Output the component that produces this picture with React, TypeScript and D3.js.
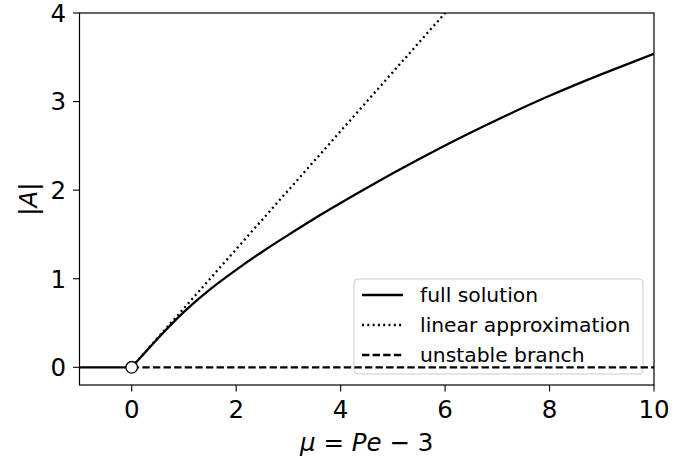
import React from "react";
import * as d3 from "d3";

const xTicks = [0, 2, 4, 6, 8, 10];
const yTicks = [0, 1, 2, 3, 4];

// stable zero branch (mu < 0)
const zeroMu = [-1, 0];
const zeroA = [0, 0];

// full solution (mu >= 0)
const fullMu = [0, 0.5, 1, 1.5, 2, 2.5, 3, 3.5, 4, 5, 6, 7, 8, 9, 10];
const fullA = [0, 0.325, 0.625, 0.88, 1.1, 1.305, 1.495, 1.68, 1.855, 2.19, 2.505, 2.795, 3.065, 3.31, 3.54];

// linear approximation
const linMu = [0, 6.2];
const linA = [0, 4.133];

// unstable branch
const unstMu = [0, 10];
const unstA = [0, 0];

const legendLabels = ["full solution", "linear approximation", "unstable branch"];

const W = 695;
const H = 459;
const L = 79.5;
const R = 654;
const T = 13;
const B = 385;

export default function App() {
  const x = d3.scaleLinear().domain([-1, 10]).range([L, R]);
  const y = d3.scaleLinear().domain([-0.2, 4]).range([B, T]);
  const line = d3
    .line<[number, number]>()
    .x((d) => x(d[0]))
    .y((d) => y(d[1]));
  const smooth = d3
    .line<[number, number]>()
    .x((d) => x(d[0]))
    .y((d) => y(d[1]))
    .curve(d3.curveNatural);

  const zip = (a: number[], b: number[]) => a.map((v, i) => [v, b[i]] as [number, number]);

  const font = "'DejaVu Sans', sans-serif";
  const dashes = ["none", "2,3.3", "7.4,3.2"];
  const legX = 354;
  const legY = 279;

  return (
    <svg
      width={W}
      height={H}
      style={{ position: "absolute", left: 0, top: 0, background: "#fff" }}
      fontFamily={font}
    >
      <defs>
        <clipPath id="plot">
          <rect x={L} y={T} width={R - L} height={B - T} />
        </clipPath>
      </defs>
      <rect width={W} height={H} fill="#fff" />

      {/* legend background */}
      <rect
        x={legX}
        y={legY}
        width={289}
        height={95}
        rx={4}
        fill="#fff"
        stroke="#ccc"
        strokeWidth={1}
      />

      <g clipPath="url(#plot)" fill="none" stroke="#000" strokeWidth={2.3}>
        <path d={line(zip(zeroMu, zeroA)) || ""} />
        <path d={line(zip(unstMu, unstA)) || ""} strokeDasharray="7.4,3.2" />
        <path d={line(zip(linMu, linA)) || ""} strokeDasharray="2,3.3" />
        <path d={smooth(zip(fullMu, fullA)) || ""} />
      </g>
      <circle cx={x(0)} cy={y(0)} r={5.8} fill="#fff" stroke="#000" strokeWidth={1.3} />

      {/* legend entries */}
      {legendLabels.map((lab, i) => (
        <g key={lab} transform={`translate(0,${295 + i * 30})`}>
          <line
            x1={362}
            x2={403}
            y1={0}
            y2={0}
            stroke="#000"
            strokeWidth={2.3}
            strokeDasharray={dashes[i]}
          />
          <text x={420} y={0} dy="0.35em" fontSize={20.3} fill="#000">
            {lab}
          </text>
        </g>
      ))}

      {/* frame */}
      <rect x={L} y={T} width={R - L} height={B - T} fill="none" stroke="#000" strokeWidth={1.2} />

      {/* x ticks */}
      {xTicks.map((t) => (
        <g key={t}>
          <line x1={x(t)} x2={x(t)} y1={B} y2={B + 6.5} stroke="#000" strokeWidth={1.1} />
          <text x={x(t)} y={418} textAnchor="middle" fontSize={24.5} fill="#000">
            {t}
          </text>
        </g>
      ))}
      {/* y ticks */}
      {yTicks.map((t) => (
        <g key={t}>
          <line x1={L - 6.5} x2={L} y1={y(t)} y2={y(t)} stroke="#000" strokeWidth={1.1} />
          <text x={66} y={y(t)} dy="0.36em" textAnchor="end" fontSize={24.5} fill="#000">
            {t}
          </text>
        </g>
      ))}

      {/* axis labels */}
      <text x={(L + R) / 2} y={451} textAnchor="middle" fontSize={24.5} fill="#000">
        <tspan fontStyle="italic">μ</tspan>
        <tspan> = </tspan>
        <tspan fontStyle="italic">Pe</tspan>
        <tspan> − 3</tspan>
      </text>
      <text
        transform={`translate(37,${(T + B) / 2}) rotate(-90)`}
        textAnchor="middle"
        fontSize={24.5}
        fill="#000"
      >
        |<tspan fontStyle="italic">A</tspan>|
      </text>
    </svg>
  );
}
